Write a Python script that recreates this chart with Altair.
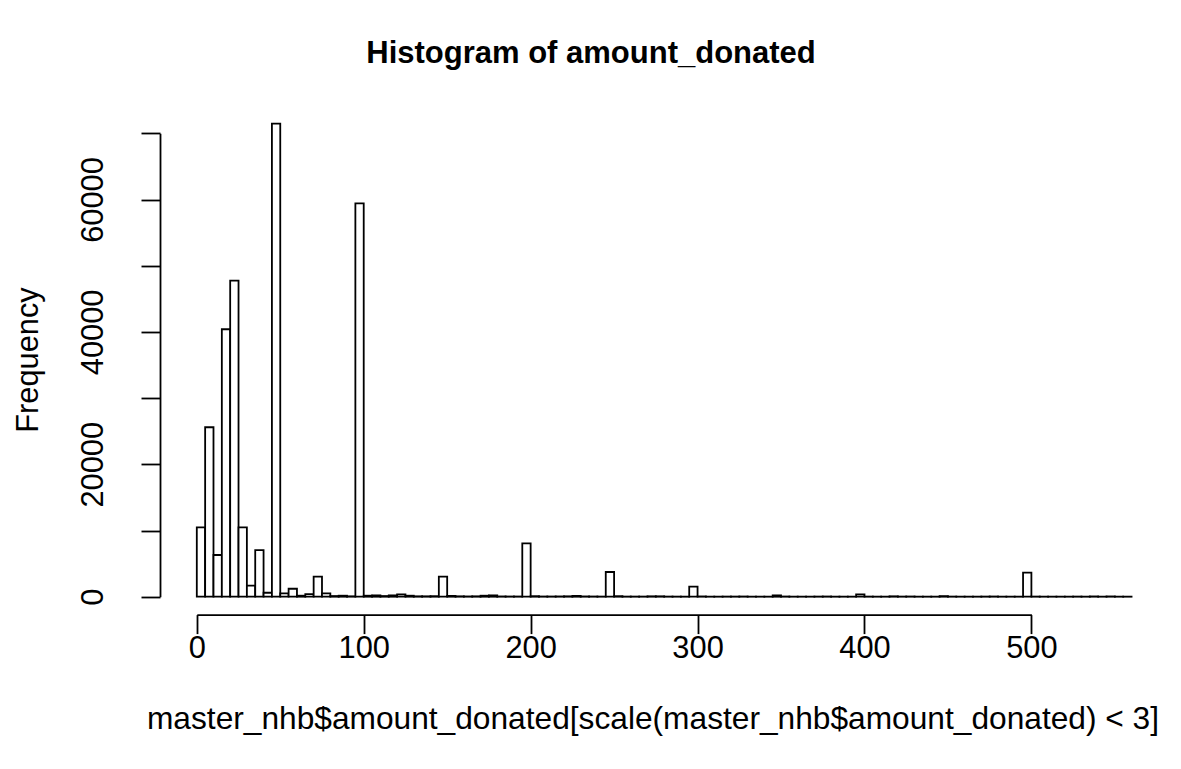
import altair as alt
import pandas as pd

# Histogram of donation amounts, 5-unit bins from 0 to 560
bin_width = 5
bin_starts = list(range(0, 560, bin_width))
counts = [
    10480, 25600, 6300, 40400, 47750, 10480, 1660, 7050, 600, 71450,
    500, 1200, 150, 400, 3020, 500, 100, 150, 60, 59400,
    150, 200, 100, 200, 350, 150, 60, 60, 80, 3020,
    120, 60, 40, 60, 150, 200, 40, 30, 30, 8070,
    80, 30, 30, 40, 60, 120, 40, 30, 20, 3730,
    80, 20, 20, 20, 60, 60, 20, 15, 10, 1510,
    40, 10, 10, 20, 20, 30, 10, 10, 10, 200,
    30, 10, 10, 10, 20, 30, 10, 10, 10, 350,
    20, 10, 10, 60, 20, 30, 10, 10, 10, 90,
    20, 10, 10, 10, 20, 30, 10, 10, 10, 3630,
    20, 10, 10, 10, 10, 20, 10, 40, 10, 40,
    10, 10,
]
x_ticks = [0, 100, 200, 300, 400, 500]
y_ticks = [0, 10000, 20000, 30000, 40000, 50000, 60000, 70000]

main_title = "Histogram of amount_donated"
x_title = "master_nhb$amount_donated[scale(master_nhb$amount_donated) < 3]"
y_title = "Frequency"

df = pd.DataFrame({
    "start": bin_starts,
    "end": [s + bin_width for s in bin_starts],
    "count": counts,
})

FONT = "Liberation Sans"
TEXT_SIZE = 30.8
LINE_W = 1.8

x_scale = alt.Scale(domain=[0, 500], range=[196.8, 1031.4], nice=False, zero=False)
y_scale = alt.Scale(domain=[0, 70000], range=[596.7, 133.3], nice=False, zero=False)

axis_common = dict(
    grid=False,
    title=None,
    format="d",
    tickSize=19,
    tickWidth=LINE_W,
    tickColor="black",
    domainColor="black",
    domainWidth=LINE_W,
    labelFont=FONT,
    labelFontSize=TEXT_SIZE,
    labelColor="black",
    labelOverlap=False,
    labelFlush=False,
)

bars = alt.Chart(df).mark_rect(
    fill="white", stroke="black", strokeWidth=LINE_W
).encode(
    x=alt.X("start:Q", scale=x_scale,
            axis=alt.Axis(values=x_ticks, orient="bottom", offset=-154.4,
                          labelAngle=0, labelAlign="center",
                          labelBaseline="alphabetic", labelPadding=24,
                          **axis_common)),
    x2="end:Q",
    y=alt.Y("count:Q", scale=y_scale,
            axis=alt.Axis(values=y_ticks, orient="left", offset=-160,
                          labelAngle=270, labelAlign="center",
                          labelBaseline="alphabetic", labelPadding=39,
                          labelExpr="datum.value % 20000 === 0 ? datum.label : ''",
                          **axis_common)),
    y2=alt.datum(0),
)


def text_layer(text, x, y, size, weight="normal", angle=0):
    return alt.Chart(alt.Data(values=[{"t": text}])).mark_text(
        font=FONT, fontSize=size, fontWeight=weight, color="black",
        align="center", baseline="alphabetic", angle=angle,
    ).encode(text="t:N", x=alt.value(x), y=alt.value(y))


title_layer = text_layer(main_title, 591, 63, 31, weight="bold")
xlab_layer = text_layer(x_title, 653, 729, 31.7)
ylab_layer = text_layer(y_title, 38, 360, TEXT_SIZE, angle=270)

chart = alt.layer(bars, title_layer, xlab_layer, ylab_layer).properties(
    width=1181,
    height=769,
    autosize=alt.AutoSizeParams(type="none"),
    padding=0,
    background="white",
).configure_view(stroke=None)

chart.save("out.html", embed_options={"renderer": "svg", "actions": False})
